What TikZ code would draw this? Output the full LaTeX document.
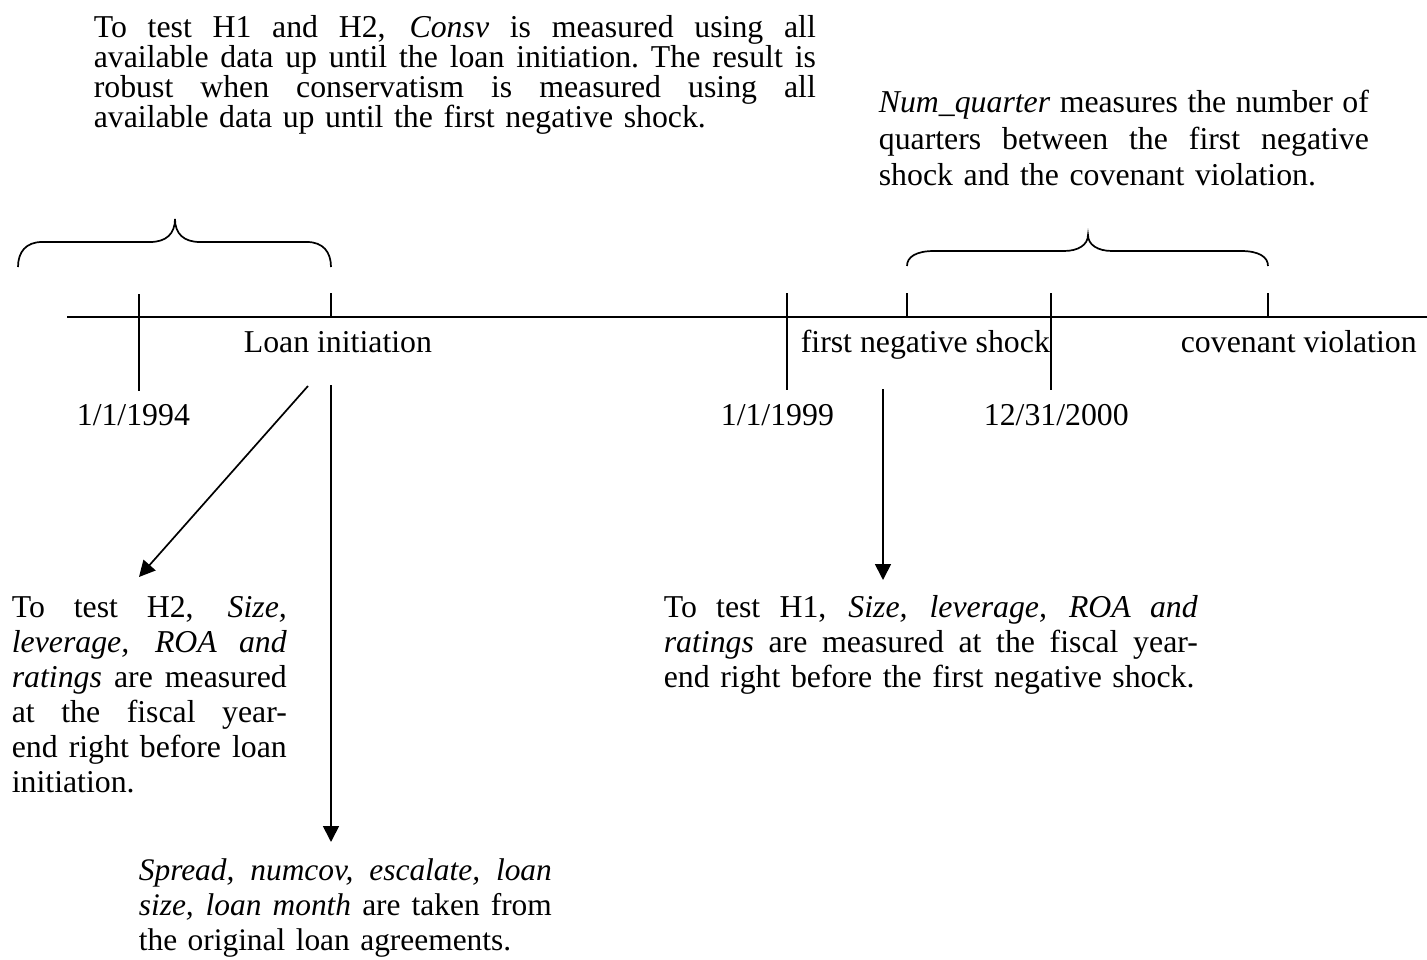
\documentclass[tikz,border=0pt]{standalone}
\usepackage{fontspec}
\setmainfont{Liberation Serif}
\usetikzlibrary{arrows.meta}
\begin{document}
\begin{tikzpicture}[x=1pt,y=-1pt, line width=1.7pt,
  lbl/.style={anchor=base west, inner sep=0pt, font=\fontsize{31.8}{35}\selectfont},
  para/.style={anchor=base west, inner sep=0pt, align=left},
  arr/.style={-{Triangle[length=16pt,width=16pt]}}]
\useasboundingbox (0,0) rectangle (1427,960);
\newcommand{\jl}[2]{\leavevmode{\spaceskip=0.25em plus 1fil\relax\xspaceskip=0.25em plus 1fil\relax\hbox to #1{#2}}}

% timeline
\coordinate (tlL) at (67,317);
\coordinate (tlR) at (1427,317);
\draw (tlL) -- (tlR);

% ticks
\coordinate (t94a) at (139,294); \coordinate (t94b) at (139,391);
\coordinate (tLa) at (331,293);  \coordinate (tLb) at (331,317);
\coordinate (t99a) at (787,293); \coordinate (t99b) at (787,390);
\coordinate (tSa) at (907,293);  \coordinate (tSb) at (907,317);
\coordinate (t00a) at (1051,293); \coordinate (t00b) at (1051,390);
\coordinate (tCa) at (1268,293); \coordinate (tCb) at (1268,317);
\draw (t94a) -- (t94b);
\draw (tLa) -- (tLb);
\draw (t99a) -- (t99b);
\draw (tSa) -- (tSb);
\draw (t00a) -- (t00b);
\draw (tCa) -- (tCb);

% braces
\draw (18,267) .. controls (18,252) and (26,242) .. (42,242) -- (150,242)
  .. controls (166,242) and (175,234) .. (175,219)
  .. controls (175,234) and (184,242) .. (200,242) -- (307,242)
  .. controls (323,242) and (331,252) .. (331,267);
\draw (907,266) .. controls (907,257) and (916,251) .. (934,251) -- (1064,251)
  .. controls (1078,251) and (1088,245) .. (1088,235)
  .. controls (1088,245) and (1098,251) .. (1112,251) -- (1241,251)
  .. controls (1259,251) and (1268,257) .. (1268,266);

% labels
\node[lbl] (loan) at (243,352) {Loan initiation};
\node[lbl] (d94) at (76,425) {1/1/1994};
\node[lbl] (d99) at (720,425) {1/1/1999};
\node[lbl] (shock) at (800,352) {first negative shock};
\node[lbl] (d00) at (983,425) {12/31/2000};
\node[lbl] (cov) at (1180,352) {covenant violation};

% paragraphs
\node[para, text width=740pt, font=\fontsize{31.8}{30}\selectfont] (ptl) at (93,38) {%
\jl{722pt}{To test H1 and H2, \textit{Consv} is measured using all}\\
\jl{722pt}{available data up until the loan initiation. The result is}\\
\jl{722pt}{robust when conservatism is measured using all}\\
\mbox{available data up until the first negative shock.}};

\node[para, text width=520pt, font=\fontsize{31.8}{36.5}\selectfont] (ptr) at (878,113) {%
\jl{490pt}{\textit{Num\_quarter} measures the number of}\\
\jl{490pt}{quarters between the first negative}\\
\mbox{shock and the covenant violation.}};

\node[para, text width=300pt, font=\fontsize{31.8}{35}\selectfont] (pbl) at (11,617) {%
\jl{275pt}{To test H2, \textit{Size,}}\\
\jl{275pt}{\textit{leverage, ROA and}}\\
\jl{275pt}{\textit{ratings} are measured}\\
\jl{275pt}{at the fiscal year-}\\
\jl{275pt}{end right before loan}\\
\mbox{initiation.}};

\node[para, text width=580pt, font=\fontsize{31.8}{35}\selectfont] (pbm) at (663,617) {%
\jl{534pt}{To test H1, \textit{Size, leverage, ROA and}}\\
\jl{534pt}{\textit{ratings} are measured at the fiscal year-}\\
\mbox{end right before the first negative shock.}};

\node[para, text width=440pt, font=\fontsize{31.4}{35}\selectfont] (pbb) at (138,880) {%
\jl{413pt}{\textit{Spread, numcov, escalate, loan}}\\
\jl{413pt}{\textit{size, loan month} are taken from}\\
\mbox{the original loan agreements.}};

% arrows
\coordinate (aDs) at (308,386); \coordinate (aDe) at (139,577);
\coordinate (aVs) at (331,385); \coordinate (aVe) at (331,842);
\coordinate (aSs) at (883,389); \coordinate (aSe) at (883,580);
\draw[arr] (aDs) -- (aDe);
\draw[arr] (aVs) -- (aVe);
\draw[arr] (aSs) -- (aSe);
\end{tikzpicture}
\end{document}
